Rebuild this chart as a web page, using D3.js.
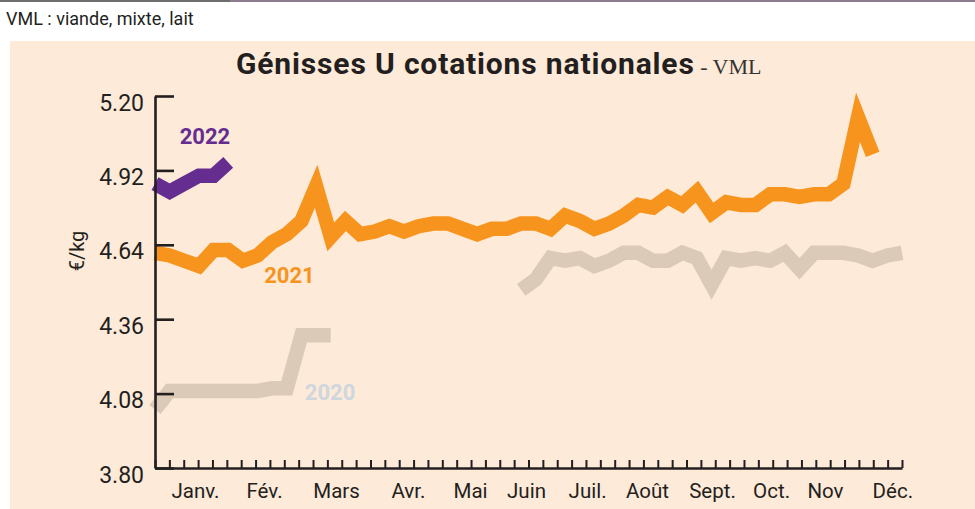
<!DOCTYPE html>
<html>
<head>
<meta charset="utf-8">
<script src="https://cdn.jsdelivr.net/npm/d3@7"></script>
<style>
  html, body { margin: 0; padding: 0; background: #ffffff; }
  svg { display: block; }
</style>
</head>
<body>
<svg id="chart" width="975" height="509"></svg>
<script>
// ---------- DATA ----------
const header = "VML : viande, mixte, lait";
const titleMain = "Génisses U cotations nationales";
const titleSub = " - VML";
const yLabel = "€/kg";
const yTicks = [3.80, 4.08, 4.36, 4.64, 4.92, 5.20];
const months = ["Janv.", "Fév.", "Mars", "Avr.", "Mai", "Juin", "Juil.", "Août", "Sept.", "Oct.", "Nov", "Déc."];
const monthWeek = [2.73, 7.44, 12.36, 17.27, 21.51, 25.33, 29.5, 33.59, 38.03, 42.06, 45.74, 50.34];
const weekCount = 52;       // weekly points
const tickCount = 53;       // small ticks on x axis

const series2020 = [4.02, 4.09, 4.09, 4.09, 4.09, 4.09, 4.09, 4.09, 4.10, 4.10, 4.30, 4.30, 4.30,
  null, null, null, null, null, null, null, null, null, null, null, null,
  4.47, 4.51, 4.59, 4.58, 4.59, 4.56, 4.58, 4.61, 4.61, 4.58, 4.58, 4.61, 4.59, 4.49, 4.59,
  4.58, 4.59, 4.58, 4.61, 4.55, 4.61, 4.61, 4.61, 4.60, 4.58, 4.60, 4.61];
const series2021 = [4.61, 4.60, 4.58, 4.56, 4.62, 4.62, 4.58, 4.60, 4.65, 4.68, 4.73, 4.86, 4.67,
  4.73, 4.68, 4.69, 4.71, 4.69, 4.71, 4.72, 4.72, 4.70, 4.68, 4.70, 4.70, 4.72, 4.72, 4.70,
  4.75, 4.73, 4.70, 4.72, 4.75, 4.79, 4.78, 4.82, 4.79, 4.84, 4.76, 4.80, 4.79, 4.79, 4.83,
  4.83, 4.82, 4.83, 4.83, 4.87, 5.12, 4.98, null, null];
const series2022 = [4.87, 4.84, 4.87, 4.90, 4.90, 4.95];

const seriesNames = ["2020", "2021", "2022"];
const seriesColors = ["#dccab8", "#f7941d", "#662d91"];
const labelColors = ["#cfd6de", "#f7941d", "#662d91"];
// label anchors in data units (week, value)
const labelWeek = [11.95, 9.18, 3.41];
const labelValue = [4.056, 4.496, 5.019];

// ---------- CHART ----------
const svg = d3.select("#chart");
const W = 975, H = 509;
const pLeft = 155, pRight = 902, pTop = 96, pBottom = 468;
const ink = "#231f20";

// top rule
svg.append("rect").attr("x", 0).attr("y", 0).attr("width", 230).attr("height", 2).attr("fill", "#6e6e6e");
svg.append("rect").attr("x", 230).attr("y", 0).attr("width", W - 230).attr("height", 2).attr("fill", "#8c7d8e");

// header
svg.append("text").attr("x", 6).attr("y", 25)
  .attr("font-family", "Roboto").attr("font-size", 18).attr("fill", ink)
  .text(header);

// panel
svg.append("rect").attr("x", 10).attr("y", 41).attr("width", W - 10).attr("height", H - 41)
  .attr("fill", "#fdead8");

// title
const t = svg.append("text").attr("x", 236).attr("y", 74).attr("fill", ink);
t.append("tspan").attr("font-family", "Roboto").attr("font-weight", 700)
  .attr("font-size", 30).attr("letter-spacing", 0.85).text(titleMain);
t.append("tspan").attr("font-family", "Liberation Serif").attr("font-size", 22)
  .attr("fill", "#333").text(titleSub);

// scales
const x = d3.scaleLinear().domain([0, weekCount - 1]).range([pLeft, pRight]);
const xt = d3.scaleLinear().domain([0, tickCount - 1]).range([pLeft, pRight]);
const y = d3.scaleLinear().domain([3.80, 5.20]).range([pBottom, pTop]);

// series lines
const line = d3.line()
  .defined(d => d != null)
  .x((d, i) => x(i))
  .y(d => y(d));

const allSeries = [series2020, series2021, series2022];
allSeries.forEach((s, k) => {
  svg.append("path")
    .datum(s)
    .attr("d", line)
    .attr("fill", "none")
    .attr("stroke", seriesColors[k])
    .attr("stroke-width", 14.5)
    .attr("stroke-linejoin", "miter")
    .attr("stroke-miterlimit", 10)
    .attr("stroke-linecap", "butt");
});

// series labels
seriesNames.forEach((n, k) => {
  svg.append("text")
    .attr("x", x(labelWeek[k]))
    .attr("y", y(labelValue[k]))
    .attr("text-anchor", "middle")
    .attr("font-family", "Roboto").attr("font-weight", 700).attr("font-size", 22)
    .attr("fill", labelColors[k])
    .text(n);
});

// y axis
const yAxis = svg.append("g").attr("transform", `translate(${pLeft},0)`)
  .call(d3.axisLeft(y).tickValues(yTicks).tickSize(-19).tickSizeOuter(0).tickPadding(11)
    .tickFormat(d3.format(".2f")));
yAxis.select(".domain").attr("stroke", ink).attr("stroke-width", 2.6);
yAxis.selectAll(".tick line").attr("stroke", ink).attr("stroke-width", 2.6);
yAxis.selectAll(".tick text")
  .attr("font-family", "Roboto").attr("font-size", 23).attr("fill", ink)
  .attr("dy", "0.61em");

// x axis small ticks
const xAxis = svg.append("g").attr("transform", `translate(0,${pBottom})`)
  .call(d3.axisBottom(xt).tickValues(d3.range(tickCount)).tickSize(-8).tickSizeOuter(0).tickFormat(""));
xAxis.select(".domain").attr("stroke", ink).attr("stroke-width", 2.6);
xAxis.selectAll(".tick line").attr("stroke", ink).attr("stroke-width", 2);

// month labels
const mAxis = svg.append("g").attr("transform", `translate(0,${pBottom})`)
  .call(d3.axisBottom(x).tickValues(monthWeek).tickSize(0).tickPadding(15.5)
    .tickFormat((d, i) => months[i]));
mAxis.select(".domain").remove();
mAxis.selectAll(".tick text")
  .attr("font-family", "Roboto").attr("font-size", 20.5).attr("fill", ink);

// y label
svg.append("text")
  .attr("transform", `translate(84,251) rotate(-90)`)
  .attr("text-anchor", "middle")
  .attr("font-family", "Roboto").attr("font-size", 20).attr("fill", ink)
  .text(yLabel);
</script>
</body>
</html>
